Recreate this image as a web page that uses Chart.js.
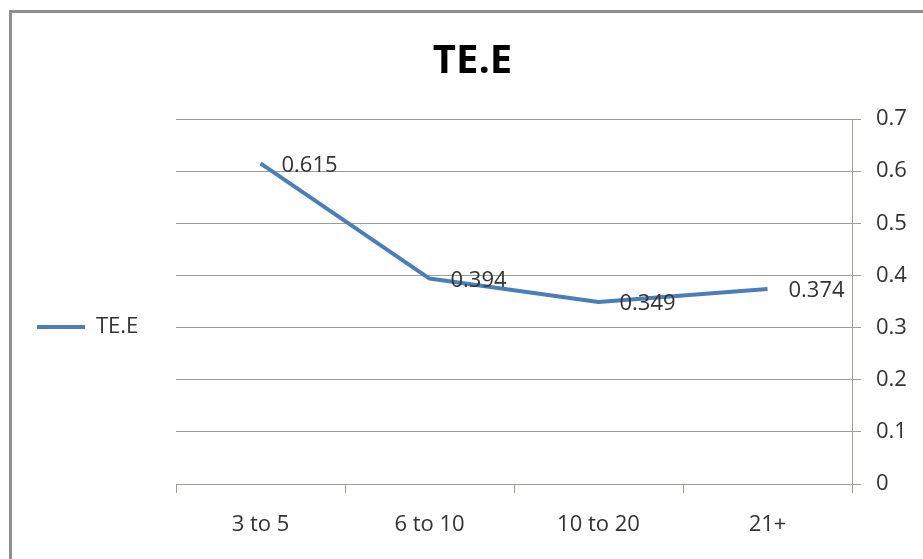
<!DOCTYPE html>
<html>
<head>
<meta charset="utf-8">
<title>TE.E</title>
<script src="https://cdn.jsdelivr.net/npm/chart.js@4/dist/chart.umd.min.js"></script>
<style>
  html, body { margin: 0; padding: 0; background: #ffffff; overflow: hidden; }
  #wrap { position: relative; width: 923px; height: 559px; }
  #chart { position: absolute; left: 0; top: 0; }
  #frame {
    position: absolute; left: 9px; top: 10px; width: 1200px; height: 1200px;
    border: 3px solid #8e8e8e; box-sizing: border-box; pointer-events: none;
  }
</style>
</head>
<body>
<div id="wrap">
  <canvas id="chart" width="923" height="559"></canvas>
  <div id="frame"></div>
</div>
<script>
// Experience bands and the TE.E score for each band
const categories = ['3 to 5', '6 to 10', '10 to 20', '21+'];
const teValues = [0.615, 0.394, 0.349, 0.374];
const yTickLabels = ['0', '0.1', '0.2', '0.3', '0.4', '0.5', '0.6', '0.7'];

const FONT = "'Open Sans', 'Liberation Sans', sans-serif";
const TEXT_COLOR = '#333333';
const GRID_COLOR = '#a39c94';
const LINE_COLOR = '#4a7ebb';
const LEGEND_WIDTH = 154;

// Writes each point's value just to the right of the point
const valueLabels = {
  id: 'valueLabels',
  afterDatasetsDraw(chart) {
    const ctx = chart.ctx;
    ctx.save();
    ctx.font = '22px ' + FONT;
    ctx.fillStyle = TEXT_COLOR;
    ctx.textAlign = 'left';
    ctx.textBaseline = 'middle';
    chart.data.datasets.forEach((ds, di) => {
      const meta = chart.getDatasetMeta(di);
      meta.data.forEach((pt, i) => {
        ctx.fillText(ds.data[i].toFixed(3), pt.x + 21, pt.y + 2);
      });
    });
    ctx.restore();
  }
};

// Gives the left-hand legend column a fixed width so the plot starts where it should
const legendColumn = {
  id: 'legendColumn',
  afterInit(chart) {
    const legend = chart.legend;
    if (!legend) return;
    const fit = legend.fit.bind(legend);
    legend.fit = function () {
      fit();
      this.width = LEGEND_WIDTH;
    };
  }
};

new Chart(document.getElementById('chart'), {
  type: 'line',
  data: {
    labels: categories,
    datasets: [{
      label: 'TE.E',
      data: teValues,
      borderColor: LINE_COLOR,
      backgroundColor: LINE_COLOR,
      borderWidth: 4,
      borderJoinStyle: 'round',
      pointRadius: 0,
      pointHoverRadius: 0,
      tension: 0,
      fill: false
    }]
  },
  options: {
    responsive: false,
    animation: false,
    devicePixelRatio: 1,
    layout: { padding: { left: 22, right: 0, top: 0, bottom: 0 } },
    plugins: {
      title: {
        display: true,
        text: 'TE.E',
        color: '#000000',
        font: { family: FONT, size: 40, weight: 'bold' },
        padding: { top: 38, bottom: 33 }
      },
      legend: {
        position: 'left',
        title: { display: true, text: ' ', font: { size: 10 }, padding: { top: 83, bottom: 0 } },
        labels: {
          usePointStyle: true,
          pointStyle: 'line',
          pointStyleWidth: 48,
          padding: 15,
          color: TEXT_COLOR,
          font: { family: FONT, size: 22 }
        }
      },
      tooltip: { enabled: false }
    },
    scales: {
      x: {
        type: 'category',
        offset: true,
        afterFit(scale) { scale.height = 75; },
        grid: {
          offset: true,
          drawOnChartArea: false,
          drawTicks: true,
          tickLength: 9,
          color: GRID_COLOR
        },
        border: { display: true, color: GRID_COLOR, width: 1 },
        ticks: {
          color: TEXT_COLOR,
          font: { family: FONT, size: 22 },
          padding: 19,
          maxRotation: 0
        }
      },
      y: {
        position: 'right',
        min: 0,
        max: 0.7,
        afterFit(scale) { scale.width = 71; },
        grid: {
          color: GRID_COLOR,
          drawTicks: true,
          tickLength: 9
        },
        border: { display: true, color: GRID_COLOR, width: 1 },
        ticks: {
          stepSize: 0.1,
          padding: 15,
          color: TEXT_COLOR,
          font: { family: FONT, size: 22 },
          callback: (v, i) => yTickLabels[i]
        }
      }
    }
  },
  plugins: [valueLabels, legendColumn]
});
</script>
</body>
</html>
